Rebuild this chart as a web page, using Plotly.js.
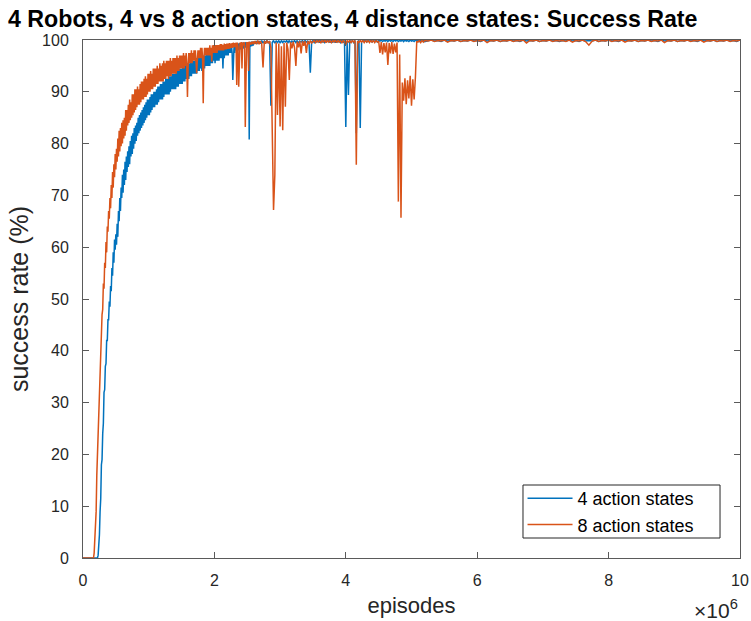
<!DOCTYPE html>
<html>
<head>
<meta charset="utf-8">
<script src="https://cdn.plot.ly/plotly-3.0.1.min.js"></script>
<style>
  html, body { margin: 0; padding: 0; background: #fff; }
  #chart { width: 751px; height: 621px; }
</style>
</head>
<body>
<div id="chart"></div>
<script>
// Success rate (%) logged on three episode grids:
// every 10k episodes up to 2.6M, every 20k up to 5.2M, then every 50k up to 10M.
const logGrids = [
  { start: 0, step: 10000 },
  { start: 2620000, step: 20000 },
  { start: 5250000, step: 50000 }
];

const seriesNames = ['4 action states', '8 action states'];
const seriesColors = ['#0072BD', '#D95319'];

// 4 action states, 0 .. 2.6M episodes (10k steps)
const fourActionRise = [
  0, 0, 0, 0, 0, 0, 0, 0, 0, 0,
  0, 0, 0, 0, 0, 0, 0, 0, 0, 0,
  0, 0, 0, 0.5, 2.5, 4.5, 9, 11.5, 18, 19,
  24, 26, 32, 32.5, 37, 37.5, 42, 42, 46, 46,
  49.5, 48.5, 52.5, 51.5, 56, 54.5, 59, 57, 61.5, 59.5,
  62.5, 60.5, 64.5, 62, 67, 65, 69.5, 67, 71.5, 69.5,
  74, 70.5, 75, 72, 76.5, 73, 77.5, 74.5, 78.5, 75.5,
  79.5, 76, 80.5, 77.5, 81.5, 78, 82, 79, 83, 80,
  83.5, 80.5, 84, 81.5, 85, 82, 85.5, 82.5, 86, 83,
  86.5, 83.5, 87, 84, 87.5, 84.5, 88, 85, 88.5, 85.5,
  88.5, 85.5, 89, 86, 89.5, 86.5, 89.5, 87, 90, 87,
  90, 87.5, 90.5, 87.5, 91, 88, 91, 88.5, 91.5, 88.5,
  91.5, 88.5, 92, 89, 92, 89.5, 92.5, 89.5, 92.5, 89.5,
  92.5, 89.5, 93, 90, 93, 90.5, 93.5, 90.5, 93.5, 90.5,
  93.5, 90.5, 94, 91, 94, 91, 94.5, 91.5, 94.5, 91.5,
  94.5, 91.5, 95, 92, 95, 92, 95, 92.5, 95.5, 92.5,
  95.5, 92.5, 95.5, 93, 96, 93, 96, 93.5, 96, 93.5,
  96, 93.5, 96.5, 93.5, 96.5, 94, 96.5, 94, 97, 94.5,
  96.5, 94, 97, 94.5, 97, 94.5, 97, 95, 97.5, 95,
  97.5, 95, 97.5, 95, 97.5, 95.5, 98, 95.5, 98, 96,
  98, 95.5, 98, 96, 98, 96, 98.5, 96, 98.5, 96.5,
  98.5, 96.5, 98.5, 94.5, 98.5, 96.5, 98.5, 97, 99, 97,
  99, 97, 99, 97.5, 99, 97.5, 99, 97.5, 92.3, 97.5,
  99.2, 97.5, 99.2, 98, 99.3, 98, 99.3, 98, 99.4, 98.2,
  99.4, 98.2, 99.5, 98.3, 99.5, 98.4, 99.5, 98.5, 99.6, 98.5,
  99.6, 98.6, 99.6, 80.8, 99.6, 98.7, 99.7, 98.8, 99.7, 98.9,
  99.7
];

// 4 action states, 2.62M .. 5.2M episodes (20k steps)
const fourActionMid = [
  99.3, 99.8, 99.4, 99.8, 99.3, 99.9, 99.4, 99.8, 99.5,
  99.9, 99.4, 99.8, 87.3, 99.5, 99.9, 99.4, 99.8, 99.5, 99.9,
  99.4, 99.9, 99.5, 99.8, 99.6, 99.9, 99.5, 99.9, 99.4, 99.8,
  99.6, 99.9, 99.5, 99.9, 99.4, 99.8, 99.6, 99.9, 99.5, 99.9,
  99.6, 99.8, 99.5, 93.7, 99.6, 99.9, 99.5, 99.9, 99.6, 100,
  99.5, 99.9, 99.6, 99.9, 99.5, 99.9, 99.7, 100, 99.5, 99.9,
  99.6, 99.9, 99.5, 100, 99.6, 99.9, 99.5, 99.9, 99.6, 99.9,
  83.2, 99.6, 89.4, 99.9, 99.6, 99.9, 99.5, 99.9, 82, 99.6,
  99.9, 83, 99.6, 99.9, 99.7, 100, 99.6, 99.9, 99.7, 100,
  99.6, 99.9, 99.7, 100, 99.6, 99.9, 99.8, 100, 99.7, 99.9,
  99.8, 100, 99.7, 100, 99.8, 99.9, 99.7, 100, 99.8, 100,
  99.7, 99.9, 99.8, 100, 99.7, 100, 99.8, 99.9, 99.7, 100,
  99.8, 99.9, 99.7, 100, 99.8, 100, 99.7, 99.9, 99.8, 100,
  99.7
];

// 4 action states, 5.25M .. 10M episodes (50k steps)
const fourActionLate = [
  99.9, 100, 99.8, 99.9, 99.7, 100, 99.8, 99.9, 99.8, 100,
  99.7, 99.9, 99.8, 100, 99.8, 99.9, 99.7, 100, 99.8, 99.9,
  99.8, 100, 99.7, 99.9, 99.8, 100, 99.8, 99.9, 99.7, 100,
  99.8, 99.9, 99.8, 100, 99.7, 99.9, 99.8, 100, 99.8, 99.9,
  99.7, 99.9, 99.8, 100, 99.8, 99.9, 99.7, 100, 99.8, 99.9,
  99.8, 100, 99.7, 99.9, 99.8, 100, 99.8, 99.9, 99.7, 100,
  99.8, 99.9, 99.8, 100, 99.7, 99.9, 99.8, 100, 99.8, 99.9,
  99.7, 100, 99.8, 99.9, 99.8, 100, 99.7, 99.9, 99.8, 100,
  99.8, 99.9, 99.7, 100, 99.8, 99.9, 99.8, 100, 99.7, 99.9,
  99.8, 100, 99.8, 99.9, 99.7, 100
];

// 8 action states, 0 .. 2.6M episodes (10k steps)
const eightActionRise = [
  0, 0, 0, 0, 0, 0, 0, 0, 0, 0,
  0, 0, 0, 0, 0, 0, 0, 1, 3, 5.5,
  9, 16, 20, 26, 28, 34, 36, 41, 42, 47,
  48, 53, 52, 57, 56, 61, 59, 64, 63, 67,
  65.5, 69.5, 67.5, 72, 69.5, 74.5, 71.5, 76, 73.5, 78,
  75, 79, 76.5, 81, 77.5, 82.5, 78.5, 83, 79.5, 84,
  80, 84.5, 81, 85, 81.5, 86.5, 82.5, 86.5, 83.5, 87.5,
  84, 88.5, 84.5, 88, 85, 89.5, 85.5, 89.5, 86, 90.5,
  86.5, 90.5, 87, 91, 87.5, 90.5, 87.5, 91.5, 88, 92,
  88.5, 92, 88.5, 92.5, 89, 93, 89, 92.5, 89.5, 93.5,
  90, 93.5, 90, 94, 90.5, 93.5, 90.5, 94.5, 91, 94.5,
  91, 94.5, 91.5, 95, 91.5, 94.5, 92, 95.5, 92, 95,
  92, 95.5, 92, 96, 92.5, 95.5, 92.5, 96, 93, 96,
  92.5, 96, 93, 96.5, 93, 96, 93.5, 96.5, 93.5, 96.5,
  93.5, 96.5, 93.5, 97, 94, 96.5, 94, 97, 94.5, 97,
  94.5, 97, 94.5, 97.5, 94.5, 97, 95, 97.5, 95, 89,
  95, 97.5, 95.5, 97.5, 95.5, 98, 95.5, 97.5, 96, 98,
  96, 98, 96, 93.6, 96, 98, 96.5, 98, 96.5, 98.5,
  96.5, 98.5, 96.5, 87.8, 96.5, 98.5, 97, 98.5, 97, 98.5,
  97, 98.5, 97, 99, 97, 98.5, 95.8, 99, 97.5, 99,
  97.5, 99, 97.5, 99, 97.5, 99, 98, 99, 98, 99.2,
  98, 99.2, 98, 99, 98, 99.3, 98.2, 99.2, 98.2, 99.3,
  98.3, 99.3, 98.3, 99.4, 98.4, 99.3, 98.5, 99.4, 98.5, 99.5,
  98.6, 99.4, 98.6, 99.5, 91.3, 99.5, 98.7, 91, 98.8, 99.5,
  98.8, 99.6, 94.5, 99.5, 98.9, 99.6, 98.9, 83.2, 99, 99.6,
  99, 99.6, 94, 99.7, 99.1, 99.6, 99.1, 99.7, 99.2, 99.7,
  99.2
];

// 8 action states, 2.62M .. 5.2M episodes (20k steps)
const eightActionMid = [
  99.8, 99.2, 99.9, 99.2, 99.8, 99.3, 94.7, 99.8, 99.3,
  99.9, 99.4, 99.8, 98.5, 80.2, 67.2, 74, 99.5, 85.5, 99.3,
  83.3, 98.8, 82.6, 99.4, 87.1, 99.5, 98.2, 92.3, 99.6, 98.4,
  99.7, 98.5, 95, 99.7, 98.6, 99.8, 97.4, 99.8, 98.9, 99.8,
  97.5, 99.8, 99.2, 99.9, 99.4, 99.6, 99.9, 99.5, 99.9, 99.6,
  99.9, 99.4, 99.9, 99.6, 100, 99.5, 99.9, 99.6, 99.9, 99.5,
  99.9, 99.6, 100, 99.5, 99.9, 99.6, 99.9, 99.4, 99.9, 99.6,
  99.1, 99.9, 99.6, 99.9, 99.5, 99.9, 99.6, 99.9, 75.9, 99.8,
  99.5, 99.9, 99.6, 99.9, 99.5, 99.9, 99.6, 99.9, 99.5, 99.9,
  99.6, 99.9, 99.5, 99.9, 99.6, 99.8, 97.5, 99.6, 97.2, 99.4,
  97.6, 99.5, 95.2, 99.4, 97.4, 99.6, 97.3, 99.3, 97.6, 99.5,
  68.8, 97.2, 65.7, 91.8, 88.3, 92.6, 87.6, 92.2, 88.7, 93.1,
  87.3, 92.4, 88.5, 92.9, 99.8, 99.6, 99.9, 99.5, 99.9, 99.6,
  99.9
];

// 8 action states, 5.25M .. 10M episodes (50k steps)
const eightActionLate = [
  99.8, 100, 99.7, 99.9, 99.8, 100, 99.6, 99.9, 99.8, 100,
  99.7, 99.9, 99.8, 100, 99.7, 99.9, 99.8, 100, 99.5, 99.9,
  99.8, 100, 99.7, 99.9, 99.8, 100, 99.7, 99.9, 99.8, 100,
  99.4, 99.9, 99.8, 100, 99.7, 99.9, 99.8, 100, 99.7, 99.9,
  99.8, 99.9, 99.7, 100, 99.6, 99.9, 99.8, 100, 99.7, 99.0,
  99.8, 100, 99.7, 99.9, 99.8, 100, 99.7, 99.9, 99.8, 100,
  99.6, 99.9, 99.8, 100, 99.7, 99.9, 99.8, 100, 99.7, 99.9,
  99.8, 100, 99.5, 99.9, 99.8, 100, 99.7, 99.9, 99.8, 100,
  99.7, 99.9, 99.8, 100, 99.6, 99.9, 99.8, 100, 99.7, 99.9,
  99.8, 100, 99.7, 99.9, 99.8, 100
];

const xTickVals = [0, 2e6, 4e6, 6e6, 8e6, 10e6];
const xTickText = ['0', '2', '4', '6', '8', '10'];
const yTickVals = [0, 10, 20, 30, 40, 50, 60, 70, 80, 90, 100];

// Join the logged segments into one x/y series on their episode grids.
function buildSeries(segments) {
  const x = [];
  const y = [];
  segments.forEach((values, s) => {
    const grid = logGrids[s];
    values.forEach((v, i) => {
      x.push(grid.start + i * grid.step);
      y.push(v);
    });
  });
  return { x, y };
}

const four = buildSeries([fourActionRise, fourActionMid, fourActionLate]);
const eight = buildSeries([eightActionRise, eightActionMid, eightActionLate]);

const traces = [four, eight].map((s, k) => ({
  type: 'scatter',
  mode: 'lines',
  name: seriesNames[k],
  x: s.x,
  y: s.y,
  line: { color: seriesColors[k], width: 1.5 },
  hoverinfo: 'skip'
}));

const axisGray = '#5a5a5a';
const fontFamily = 'Liberation Sans, Arial, Helvetica, sans-serif';

// Legend frame (paper coordinates), drawn as a box behind the legend entries.
const legendBox = { x0: 0.6697, x1: 0.9696, y0: 0.0386, y1: 0.1409 };

const layout = {
  width: 751,
  height: 621,
  margin: { l: 83, r: 11, t: 40, b: 63 },
  paper_bgcolor: '#ffffff',
  plot_bgcolor: '#ffffff',
  font: { family: fontFamily, size: 16, color: '#262626' },
  showlegend: true,
  title: {
    text: '4 Robots, 4 vs 8 action states, 4 distance states: Success Rate',
    font: { family: fontFamily, size: 23.2, color: '#000000', weight: 'bold' },
    xref: 'container', x: 8 / 751, xanchor: 'left',
    yref: 'container', y: 1 - 19 / 621, yanchor: 'middle'
  },
  xaxis: {
    range: [0, 10e6],
    tickvals: xTickVals,
    ticktext: xTickText,
    ticks: 'inside',
    ticklen: 6,
    tickcolor: axisGray,
    showline: true,
    linecolor: axisGray,
    linewidth: 1,
    mirror: 'allticks',
    showgrid: false,
    zeroline: false,
    ticklabelstandoff: 8,
    tickfont: { size: 16, color: '#262626' },
    title: { text: 'episodes', font: { size: 22, color: '#262626' }, standoff: 9 }
  },
  yaxis: {
    range: [0, 100],
    tickvals: yTickVals,
    ticks: 'inside',
    ticklen: 6,
    tickcolor: axisGray,
    showline: true,
    linecolor: axisGray,
    linewidth: 1,
    mirror: 'allticks',
    showgrid: false,
    zeroline: false,
    ticklabelstandoff: 10,
    tickfont: { size: 16, color: '#262626' },
    title: { text: 'success rate (%)', font: { size: 25, color: '#262626' }, standoff: 6 }
  },
  legend: {
    x: 0.669, xanchor: 'left',
    y: (legendBox.y0 + legendBox.y1) / 2, yanchor: 'middle',
    bgcolor: 'rgba(0,0,0,0)',
    borderwidth: 0,
    font: { size: 18, color: '#000000' },
    itemwidth: 45,
    tracegroupgap: 0
  },
  shapes: [{
    type: 'rect', xref: 'paper', yref: 'paper',
    x0: legendBox.x0, x1: legendBox.x1, y0: legendBox.y0, y1: legendBox.y1,
    line: { color: '#262626', width: 1 },
    fillcolor: '#ffffff',
    layer: 'above'
  }],
  annotations: [{
    text: '\u00d710<sup>6</sup>',
    xref: 'paper', yref: 'paper',
    x: 1, xanchor: 'right',
    y: -0.07, yanchor: 'top',
    showarrow: false,
    font: { size: 21, color: '#262626' }
  }]
};

Plotly.newPlot('chart', traces, layout, { displayModeBar: false, staticPlot: true });
</script>
</body>
</html>
